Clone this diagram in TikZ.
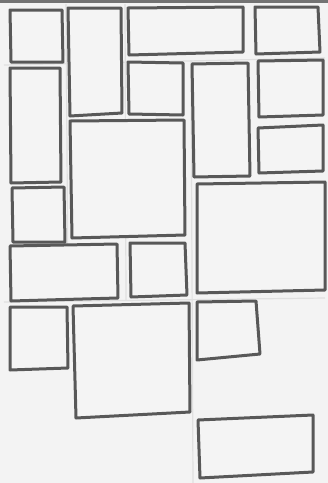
\documentclass[tikz,border=0pt]{standalone}
\begin{document}
\begin{tikzpicture}[x=1pt,y=-1pt,
  box/.style={draw=boxline,line width=3pt,line join=round,fill=boxfill},
  guide/.style={draw=black!12,line width=1.2pt}]
\definecolor{boxline}{HTML}{585858}
\definecolor{boxfill}{HTML}{F4F4F4}
\definecolor{bgc}{HTML}{F3F3F3}
\useasboundingbox (0,0) rectangle (328,483);
\fill[bgc] (0,0) rectangle (328,483);
\fill[black!55] (0,0) rectangle (328,2.5);
% faint guide lines in the gaps
\draw[guide] (66,4) -- (68,300);
\draw[guide] (125,4) -- (126,300);
\draw[guide] (191,60) -- (193,483);
\draw[guide] (4,65) -- (325,58);
\draw[guide] (4,302) -- (325,298);
% rectangles
\path[box] (10,10) -- (62,10) -- (63,62) -- (11,62) -- cycle;
\path[box] (10,68) -- (60,68) -- (61,182) -- (11,183) -- cycle;
\path[box] (12,188) -- (64,187) -- (65,242) -- (13,242) -- cycle;
\path[box] (68,8) -- (121,8) -- (122,113) -- (70,116) -- cycle;
\path[box] (128,8) -- (243,7) -- (243,52) -- (129,55) -- cycle;
\path[box] (255,7) -- (318,7) -- (320,52) -- (256,54) -- cycle;
\path[box] (128,62) -- (183,63) -- (183,115) -- (129,114) -- cycle;
\path[box] (192,64) -- (248,63) -- (250,176) -- (194,177) -- cycle;
\path[box] (258,61) -- (323,60) -- (323,115) -- (259,117) -- cycle;
\path[box] (258,128) -- (323,125) -- (323,171) -- (259,173) -- cycle;
\path[box] (70,121) -- (184,120) -- (185,235) -- (72,238) -- cycle;
\path[box] (197,184) -- (325,182) -- (325,290) -- (197,293) -- cycle;
\path[box] (10,246) -- (117,244) -- (118,298) -- (11,301) -- cycle;
\path[box] (130,243) -- (185,243) -- (187,295) -- (131,297) -- cycle;
\path[box] (10,307) -- (67,307) -- (68,368) -- (10,370) -- cycle;
\path[box] (73,306) -- (189,303) -- (190,412) -- (76,418) -- cycle;
\path[box] (197,302) -- (256,301) -- (260,354) -- (197,360) -- cycle;
\path[box] (198,420) -- (313,415) -- (313,472) -- (200,478) -- cycle;
\end{tikzpicture}
\end{document}
